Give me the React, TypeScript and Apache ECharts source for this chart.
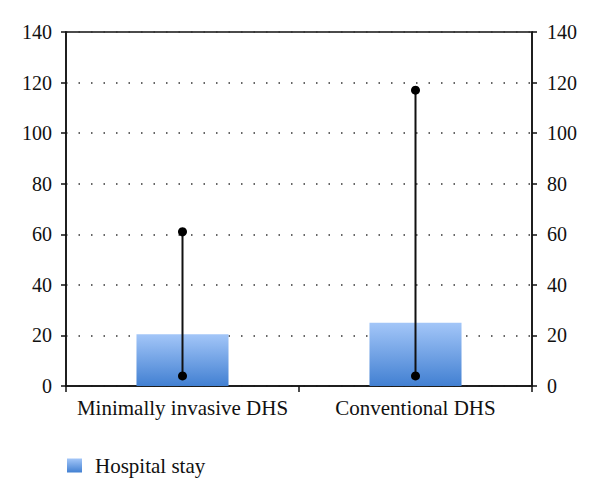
import React, { useEffect, useRef } from "react";
import * as echarts from "echarts";

const categories = ["Minimally invasive DHS", "Conventional DHS"];
const hospitalStay = [20.5, 25];
const rangeMin = [4, 4];
const rangeMax = [61, 117];
const yTicks = { min: 0, max: 140, interval: 20 };

const FONT = "'Liberation Serif', 'DejaVu Serif', serif";

export default function App() {
  const ref = useRef<HTMLDivElement>(null);
  useEffect(() => {
    if (!ref.current) return;
    const chart = echarts.init(ref.current, null, { renderer: "svg" });
    const grad = new echarts.graphic.LinearGradient(0, 0, 0, 1, [
      { offset: 0, color: "#a3c6f8" },
      { offset: 1, color: "#4280d2" },
    ]);
    const whiskerData = categories.map((_, i) => [i, rangeMin[i], rangeMax[i]]);
    chart.setOption({
      animation: false,
      backgroundColor: "#ffffff",
      textStyle: { fontFamily: FONT },
      grid: {
        left: 66,
        right: 68,
        top: 32,
        bottom: 118,
        show: true,
        borderColor: "#111",
        borderWidth: 1.5,
        backgroundColor: "transparent",
      },
      legend: {
        left: 62,
        top: 450,
        itemWidth: 15,
        itemHeight: 14,
        icon: "rect",
        data: ["Hospital stay"],
        textStyle: { fontFamily: FONT, fontSize: 21, color: "#111", padding: [0, 0, 0, 8] },
        itemGap: 10,
      },
      xAxis: [
        {
          type: "category",
          data: categories,
          axisLine: { show: true, lineStyle: { color: "#111", width: 1.5 } },
          axisTick: { show: true, length: 6, alignWithLabel: false, lineStyle: { color: "#111", width: 1.5 } },
          axisLabel: { fontFamily: FONT, fontSize: 21, color: "#111", margin: 11, interval: 0 },
          splitLine: { show: false },
        },
      ],
      yAxis: [
        {
          type: "value",
          position: "left",
          min: yTicks.min,
          max: yTicks.max,
          interval: yTicks.interval,
          axisLine: { show: true, lineStyle: { color: "#111", width: 1.5 } },
          axisTick: { show: true, length: 5, lineStyle: { color: "#111", width: 1.5 } },
          axisLabel: { fontFamily: FONT, fontSize: 20, color: "#111", margin: 14 },
          splitLine: { show: true, lineStyle: { color: "#333", type: [1.5, 11], width: 1.5 } },
        },
        {
          type: "value",
          position: "right",
          min: yTicks.min,
          max: yTicks.max,
          interval: yTicks.interval,
          axisLine: { show: true, lineStyle: { color: "#111", width: 1.5 } },
          axisTick: { show: true, length: 5, lineStyle: { color: "#111", width: 1.5 } },
          axisLabel: { fontFamily: FONT, fontSize: 20, color: "#111", margin: 15 },
          splitLine: { show: false },
        },
      ],
      series: [
        {
          name: "Hospital stay",
          type: "bar",
          data: hospitalStay,
          barWidth: "39.5%",
          itemStyle: { color: grad },
        },
        {
          name: "range",
          type: "custom",
          data: whiskerData,
          z: 5,
          renderItem: (params: any, api: any) => {
            const x = api.value(0);
            const lo = api.coord([x, api.value(1)]);
            const hi = api.coord([x, api.value(2)]);
            return {
              type: "group",
              children: [
                {
                  type: "line",
                  shape: { x1: lo[0], y1: lo[1], x2: hi[0], y2: hi[1] },
                  style: { stroke: "#111", lineWidth: 2 },
                },
                { type: "circle", shape: { cx: lo[0], cy: lo[1], r: 4.5 }, style: { fill: "#000" } },
                { type: "circle", shape: { cx: hi[0], cy: hi[1], r: 4.5 }, style: { fill: "#000" } },
              ],
            };
          },
        },
      ],
    });
    return () => chart.dispose();
  }, []);
  return (
    <div
      ref={ref}
      style={{ position: "absolute", left: 0, top: 0, width: 600, height: 504 }}
    />
  );
}
